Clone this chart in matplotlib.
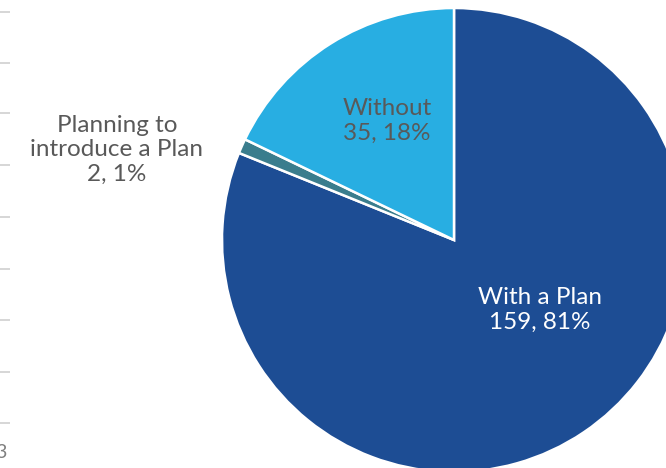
import numpy as np
import matplotlib.pyplot as plt

labels = ['With a Plan', 'Planning to\nintroduce a Plan', 'Without']
values = [159, 2, 35]
pcts = ['81%', '1%', '18%']
colors = ['#1D4D94', '#3A7D8D', '#28AEE2']
text_colors = ['white', '#595959', '#595959']
# label anchor points in pixels (x from left, y from top)
label_px = [(540, 310), (117, 150), (387, 121)]

# left-over tick marks of a neighbouring axis
side_ticks = [12, 63, 113, 165, 217, 269, 320, 372, 423]

W, H = 666, 468
plt.rcParams['font.family'] = ['Lato', 'DejaVu Sans']
fig = plt.figure(figsize=(W / 100, H / 100), dpi=100)

# pie: centre (454, 240) px, radius 232 px
cx, cy, r = 454, 240, 232
ax = fig.add_axes([(cx - r) / W, (H - cy - r) / H, 2 * r / W, 2 * r / H])
ax.pie(values, colors=colors, startangle=90, counterclock=False,
       wedgeprops=dict(edgecolor='white', linewidth=1.8))
ax.set_xlim(-1, 1)
ax.set_ylim(-1, 1)
ax.set_aspect('auto')
ax.axis('off')

for lab, v, p, tc, (px, py) in zip(labels, values, pcts, text_colors, label_px):
    fig.text(px / W, 1 - py / H, f'{lab}\n{v}, {p}', ha='center', va='center',
             color=tc, fontsize=17.5, linespacing=1.2)

# left side ticks
lax = fig.add_axes([0, 0, 10 / W, 1])
lax.set_xlim(0, 1)
lax.set_ylim(H, 0)
for y in side_ticks:
    lax.plot([0, 1], [y, y], color='#D0D0D0', lw=1.2)
lax.axis('off')
fig.text(-5 / W, 1 - 452 / H, '3', color='#808080', fontsize=14, va='center')

fig.savefig('out.png', dpi=100)
